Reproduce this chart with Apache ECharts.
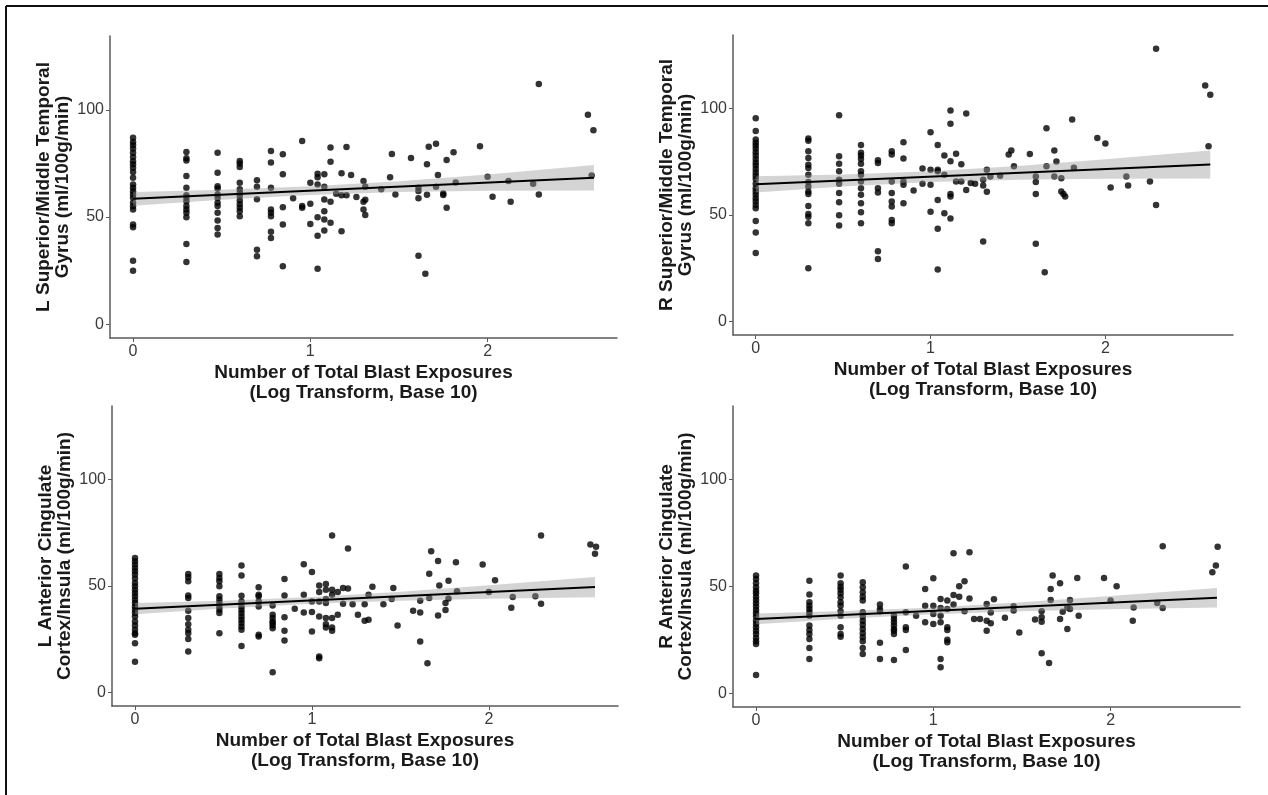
<!DOCTYPE html>
<html>
<head>
<meta charset="utf-8">
<script src="https://cdn.jsdelivr.net/npm/echarts@6/dist/echarts.min.js"></script>
<style>
  html, body { margin: 0; padding: 0; background: #fff; }
  #main { width: 1268px; height: 795px; }
</style>
</head>
<body>
<div id="main"></div>
<script>
// each row: [log10 blast exposures, cbf values...]
const lsmtColumns = [
  [0, 87, 85, 83.6, 82, 80, 78, 76, 74.6, 73, 71, 68.3, 65.2, 63.7, 62, 60.5, 59, 56.6, 55, 53.5, 46.5, 45.2, 29.6, 25],
  [0.301, 80.3, 77.4, 76.4, 69.1, 63.7, 60.2, 59, 57.4, 55.1, 53.5, 52, 49.9, 37.4, 29],
  [0.477, 80, 70.7, 64.4, 63.3, 60.5, 59, 56.6, 55.1, 52, 48.4, 44.9, 41.8],
  [0.602, 76.1, 74.9, 73.3, 66, 62.9, 61.3, 59.8, 57.7, 55.9, 54.3, 52.7, 50.4],
  [0.699, 67.1, 64.1, 58.3, 34.8, 31.7],
  [0.778, 80.8, 75.4, 63.7, 53.5, 52, 50.4, 43.1, 40.2],
  [0.845, 79.3, 69.9, 54.6, 46.5, 27],
  [0.903, 58.7],
  [0.954, 85.5, 55.1, 54.3],
  [1.0, 66, 56.2, 46.8],
  [1.041, 70.2, 68.6, 65.2, 49.9, 41.3, 25.9],
  [1.079, 69.9, 64.1, 58.2, 52.7, 48.8, 43.7],
  [1.114, 82.4, 75.8, 57.1, 47.3],
  [1.146, 60.8],
  [1.176, 70.4, 60.2, 43.4],
  [1.204, 82.7, 60.2],
  [1.23, 69.6], [1.26, 59.3],
  [1.30, 66.8, 57.1, 53.5], [1.31, 58, 50.9, 64.1],
  [1.40, 62.9], [1.45, 68.5], [1.46, 79.4], [1.48, 60.5], [1.568, 77.5],
  [1.61, 63.7, 62.1, 58.7, 32], [1.649, 23.6], [1.658, 74.6, 60.4], [1.668, 82.8],
  [1.709, 84.2, 64.1], [1.72, 69.6], [1.75, 61, 60.3], [1.769, 76.6, 54.3],
  [1.808, 80.2], [1.82, 66.1], [1.957, 83], [2.0, 68.8], [2.028, 59.4],
  [2.118, 66.8], [2.13, 57.1], [2.257, 65.5], [2.289, 112, 60.5],
  [2.566, 97.7], [2.587, 69.4], [2.597, 90.5]
];
const rsmtColumns = [
  [0, 95.3, 89.3, 85.4, 83.8, 82.5, 81, 79.4, 77.8, 76.2, 74.6, 73.1, 71.5, 69.9, 68.3, 66.8, 64.6, 62.5, 60.9, 59.4, 57.8, 56.2, 54.6, 53.1, 47.1, 41.7, 32.1],
  [0.301, 85.8, 84.8, 79.8, 76.7, 73.5, 72, 68.8, 65.4, 63.3, 60.9, 59.8, 54.2, 50.4, 49.1, 46, 24.9],
  [0.477, 96.7, 77.5, 74, 70.4, 66.5, 64.6, 60.2, 55.9, 49.8, 45],
  [0.602, 82.8, 79.1, 77.8, 76.2, 74, 70.4, 68.8, 65.7, 62.5, 59.4, 55.4, 51.2, 46],
  [0.699, 75.6, 74.3, 62.5, 60.5, 32.9, 29.3],
  [0.778, 79.8, 78.3, 65.7, 60.2, 56.2, 53.9, 47.6, 46],
  [0.845, 84.1, 76.4, 65.7, 64.1, 55.4],
  [0.903, 61.4],
  [0.954, 71.7, 64.6],
  [1.0, 88.8, 71.2, 64.1, 51.5],
  [1.041, 82.8, 71.2, 70.4, 57, 43.5, 24.4],
  [1.079, 77.8, 68.8, 50.7],
  [1.114, 99, 92.8, 75.1, 59.8, 58.6, 48.3],
  [1.146, 78.7, 65.7], [1.176, 73.7, 65.7], [1.204, 97.6, 61.7],
  [1.23, 64.9], [1.255, 64.6], [1.301, 66.5, 63.8, 37.5], [1.322, 71.2, 60.8],
  [1.342, 68], [1.398, 68.3], [1.447, 78.3], [1.462, 80.2], [1.477, 72.8],
  [1.568, 78.6], [1.602, 68, 65.4, 59.8, 36.4], [1.653, 23.1], [1.663, 72.8, 90.6],
  [1.708, 80.2, 68], [1.72, 75], [1.748, 67.2, 61], [1.76, 59.8], [1.77, 58.6],
  [1.81, 94.8], [1.82, 72.1], [1.954, 86.1], [2.0, 83.5], [2.03, 62.8],
  [2.12, 68], [2.13, 63.8], [2.255, 65.7], [2.29, 127.9, 54.6],
  [2.571, 110.7], [2.59, 82.2], [2.6, 106.3]
];
const laciColumns = [
  [0, 63.1, 61.5, 60, 58.4, 56.8, 55.3, 53.4, 51.3, 49.8, 48.2, 46.6, 45.1, 43.5, 41.9, 40.3, 38.8, 37.2, 35.6, 33.3, 31.4, 29.4, 27.8, 27, 23.1, 14.4],
  [0.301, 55.6, 54, 52.1, 45.5, 44.3, 38.3, 34.9, 32, 29.4, 27.8, 25.1, 19.2],
  [0.477, 55.6, 53.7, 52.1, 49.8, 45.1, 43.5, 41.9, 40.3, 38.8, 37.2, 27.8],
  [0.602, 59.5, 54.9, 45.4, 42.7, 40.3, 38.8, 37.2, 35.6, 34.1, 32.5, 30.9, 29.4, 21.8],
  [0.699, 49.3, 45.8, 45.1, 42.7, 40.3, 27, 26.2],
  [0.778, 40.8, 36.4, 34.9, 33.3, 32.5, 31.4, 30.1, 9.4],
  [0.845, 53.2, 45.5, 35.2, 28.9, 24.3],
  [0.903, 39.2],
  [0.954, 60.1, 45.8, 37.5],
  [1.0, 56.5, 42.7, 37.7, 28.6],
  [1.041, 50.2, 47.1, 42.7, 35.6, 16.8, 16],
  [1.079, 50.9, 48.2, 43.8, 41.9, 34.9, 32, 30.5],
  [1.114, 73.6, 48.2, 45.8, 34.9, 30.5, 28.9],
  [1.146, 47.1, 36.4], [1.176, 49, 41.6], [1.204, 67.5, 48.7],
  [1.23, 41.4], [1.26, 36.4], [1.298, 41.4, 33.6], [1.32, 34.1, 45.8],
  [1.342, 49.6], [1.404, 41.4], [1.451, 43.8], [1.46, 49], [1.484, 31.4],
  [1.572, 38.3], [1.612, 43, 37.5, 23.9], [1.653, 13.7], [1.663, 55.7, 44.3],
  [1.674, 66.2], [1.713, 61.7, 36.1], [1.72, 50.1], [1.755, 41.9, 38.6],
  [1.772, 52.4, 44], [1.814, 61.1], [1.82, 47.4], [1.965, 60], [2.0, 47.1],
  [2.035, 52.6], [2.127, 39.7], [2.135, 44.7], [2.263, 45.1], [2.295, 73.6, 41.6],
  [2.574, 69.4], [2.6, 65], [2.606, 68.3]
];
const raciColumns = [
  [0, 55.1, 53.5, 51.5, 49.6, 48, 46.8, 45.2, 43.7, 42.1, 40.6, 39, 37.4, 35.9, 34, 32.4, 30.9, 29.3, 27.8, 25.9, 24.3, 23.1, 8.6],
  [0.301, 52.6, 46.2, 42.6, 41, 39.5, 37.9, 36.3, 31.7, 29.6, 27.8, 25.4, 21.2, 16.1],
  [0.477, 55.1, 51.5, 49.9, 48.4, 46.8, 44.9, 42.6, 41, 38.4, 36.3, 30.9, 27.8, 26.5],
  [0.602, 51.9, 49.6, 47.3, 45.2, 43.4, 37.9, 35.9, 34, 32.1, 30.1, 28.1, 26.2, 24.3, 21.2, 18.4],
  [0.699, 41.5, 39.5, 38.4, 23.6, 16.1],
  [0.778, 36.3, 34.8, 33.2, 31.7, 30.1, 29.3, 27.8, 15.6],
  [0.845, 59.3, 37.9, 30.9, 29.6, 20.3],
  [0.903, 36.3],
  [0.954, 48.8, 41, 33.2],
  [1.0, 53.8, 41, 37.1, 32.4],
  [1.041, 44.1, 39.9, 36.3, 33.2, 16.1, 12.2],
  [1.079, 43.4, 39.5, 30.9, 29.6, 25, 23.9],
  [1.114, 65.5, 46, 41.5],
  [1.146, 50.1, 45.2], [1.176, 52.4, 38.4], [1.204, 66, 44.3],
  [1.23, 34.8], [1.263, 34.8], [1.301, 41.8, 29.3, 34], [1.324, 32.8, 37.8],
  [1.342, 44], [1.404, 35.4], [1.453, 40.7, 38.7], [1.485, 28.5], [1.574, 34.5],
  [1.611, 38.4, 35.6, 33.5, 18.7], [1.653, 14.2], [1.662, 48.8, 43.7], [1.673, 55.1],
  [1.715, 51.5, 34.8], [1.73, 38.2], [1.756, 30.1, 40.2], [1.771, 43.7, 39.5],
  [1.812, 54], [1.82, 36.3], [1.963, 54], [2.0, 43.4], [2.034, 50.1],
  [2.125, 34], [2.13, 40.1], [2.263, 42.3], [2.294, 68.8, 39.9],
  [2.574, 56.6], [2.594, 59.8], [2.604, 68.6]
];

// fitted line ends and confidence band
const fitX = [0, 2.6];
const lsmtFit = [58.5, 68.3];
const rsmtFit = [64.3, 73.6];
const laciFit = [39.3, 49.4];
const raciFit = [34.8, 44.7];

const bandX = [0, 0.5, 1, 1.5, 2, 2.6];
const lsmtLower = [55.3, 58.1, 60.3, 61.7, 62.2, 62.4];
const lsmtUpper = [61.7, 62.7, 64.3, 66.7, 69.8, 74.2];
const rsmtLower = [60.5, 63.3, 65.4, 66.5, 66.9, 67.0];
const rsmtUpper = [68.1, 68.9, 70.4, 72.9, 76.1, 80.2];
const laciLower = [36.7, 39.4, 41.6, 43.0, 43.9, 44.6];
const laciUpper = [41.9, 43.0, 44.8, 47.2, 50.3, 54.2];
const raciLower = [32.3, 34.9, 37.0, 38.4, 39.3, 40.1];
const raciUpper = [37.3, 38.5, 40.2, 42.6, 45.5, 49.3];

const xTicks = [0, 1, 2];
const yTicks = [0, 50, 100];
const xTitle = 'Number of Total Blast Exposures\n(Log Transform, Base 10)';

const panels = [
  { cols: lsmtColumns, fit: lsmtFit, lo: lsmtLower, hi: lsmtUpper,
    yTitle: 'L Superior/Middle Temporal\nGyrus (ml/100g/min)',
    grid: { left: 110, top: 36, width: 507, height: 302 } },
  { cols: rsmtColumns, fit: rsmtFit, lo: rsmtLower, hi: rsmtUpper,
    yTitle: 'R Superior/Middle Temporal\nGyrus (ml/100g/min)',
    grid: { left: 733, top: 35, width: 500, height: 300 } },
  { cols: laciColumns, fit: laciFit, lo: laciLower, hi: laciUpper,
    yTitle: 'L Anterior Cingulate\nCortex/Insula (ml/100g/min)',
    grid: { left: 112, top: 406, width: 506, height: 300 } },
  { cols: raciColumns, fit: raciFit, lo: raciLower, hi: raciUpper,
    yTitle: 'R Anterior Cingulate\nCortex/Insula (ml/100g/min)',
    grid: { left: 733, top: 406, width: 507, height: 301 } }
];

const font = '"Liberation Sans", Arial, sans-serif';
const axisGrey = '#5a5a5a';

const chart = echarts.init(document.getElementById('main'));

const grids = [], xAxes = [], yAxes = [], series = [];

panels.forEach((p, i) => {
  grids.push(Object.assign({ containLabel: false }, p.grid));

  xAxes.push({
    type: 'value', gridIndex: i, min: -0.13, max: 2.73,
    axisLine: { onZero: false, lineStyle: { color: axisGrey, width: 1.5 } },
    axisTick: { length: 4, customValues: xTicks, lineStyle: { color: axisGrey } },
    axisLabel: { customValues: xTicks, color: '#3a3a3a', fontSize: 16, fontFamily: font, margin: 6 },
    splitLine: { show: false },
    name: xTitle, nameLocation: 'middle', nameGap: 25,
    nameTextStyle: { fontSize: 19, fontWeight: 'bold', color: '#1a1a1a', fontFamily: font, lineHeight: 20 }
  });

  yAxes.push({
    type: 'value', gridIndex: i, min: -6.4, max: 134.4,
    axisLine: { onZero: false, lineStyle: { color: axisGrey, width: 1.5 } },
    axisTick: { length: 4, customValues: yTicks, lineStyle: { color: axisGrey } },
    axisLabel: { customValues: yTicks, color: '#3a3a3a', fontSize: 16, fontFamily: font, margin: 6 },
    splitLine: { show: false },
    name: p.yTitle, nameLocation: 'middle', nameGap: 38, nameRotate: 90,
    nameTextStyle: { fontSize: 19, fontWeight: 'bold', color: '#1a1a1a', fontFamily: font, lineHeight: 19 }
  });

  const pts = [];
  p.cols.forEach(row => row.slice(1).forEach(y => pts.push([row[0], y])));

  series.push({
    type: 'scatter', xAxisIndex: i, yAxisIndex: i, data: pts,
    symbolSize: 6.5, itemStyle: { color: '#000' }, z: 2, silent: true
  });

  // confidence band: polygon through upper edge then lower edge, placed by the axes
  series.push({
    type: 'custom', xAxisIndex: i, yAxisIndex: i, data: [[0, 0]], z: 3, silent: true,
    renderItem: (params, api) => {
      const upper = bandX.map((x, k) => api.coord([x, p.hi[k]]));
      const lower = bandX.map((x, k) => api.coord([x, p.lo[k]])).reverse();
      return {
        type: 'polygon',
        shape: { points: upper.concat(lower) },
        style: { fill: 'rgba(153,153,153,0.42)', stroke: null }
      };
    }
  });

  series.push({
    type: 'line', xAxisIndex: i, yAxisIndex: i,
    data: fitX.map((x, k) => [x, p.fit[k]]),
    symbol: 'none', lineStyle: { color: '#000', width: 2 }, z: 4, silent: true
  });
});

chart.setOption({
  animation: false,
  backgroundColor: '#fff',
  grid: grids,
  xAxis: xAxes,
  yAxis: yAxes,
  series: series,
  graphic: [
    { type: 'line', shape: { x1: 6, y1: 6, x2: 1268, y2: 6 }, style: { stroke: '#111', lineWidth: 2 } },
    { type: 'line', shape: { x1: 6, y1: 6, x2: 6, y2: 795 }, style: { stroke: '#111', lineWidth: 2 } }
  ]
});
</script>
</body>
</html>
